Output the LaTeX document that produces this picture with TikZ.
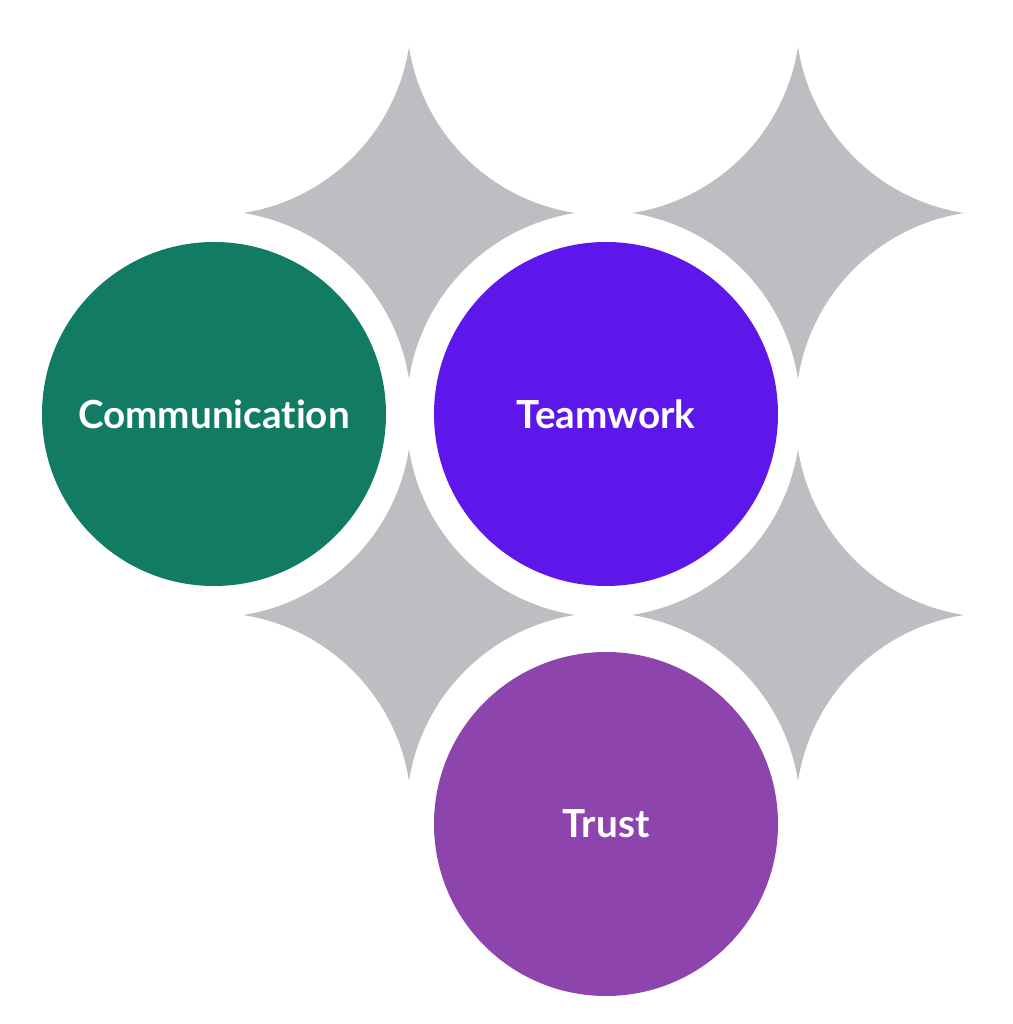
\documentclass[tikz,border=0pt]{standalone}
\usepackage{fontspec}
\setmainfont[Ligatures={NoCommon,NoRare}]{Lato}
\usepackage{tikz}
\usepackage{xcolor}
\definecolor{commgreen}{HTML}{127B64}
\definecolor{teamviolet}{HTML}{5E17EB}
\definecolor{trustpurple}{HTML}{8E44AD}
\definecolor{sparkgray}{HTML}{BDBEC2}
\tikzset{
  bubble/.style={circle,minimum size=3.44cm,inner sep=0pt,text=white,font=\fontsize{11}{13}\selectfont\bfseries},
  sparkle/.pic={
    \fill[sparkgray] (0,1.66) arc[start angle=188.85,end angle=261.15,radius=1.99]
      arc[start angle=98.85,end angle=171.15,radius=1.99]
      arc[start angle=8.85,end angle=81.15,radius=1.99]
      arc[start angle=278.85,end angle=351.15,radius=1.99] -- cycle;
  }
}

\begin{document}
\begin{tikzpicture}
\useasboundingbox (0,0) rectangle (10.13,10.24);
\pic at (4.09,8.11) {sparkle};
\pic at (7.98,8.11) {sparkle};
\pic at (4.09,4.09) {sparkle};
\pic at (7.98,4.09) {sparkle};
\node[bubble,fill=commgreen] (comm) at (2.14,6.10) {Communication};
\node[bubble,fill=teamviolet] (team) at (6.06,6.10) {Teamwork};
\node[bubble,fill=trustpurple] (trust) at (6.06,2.00) {Trust};
\end{tikzpicture}
\end{document}
